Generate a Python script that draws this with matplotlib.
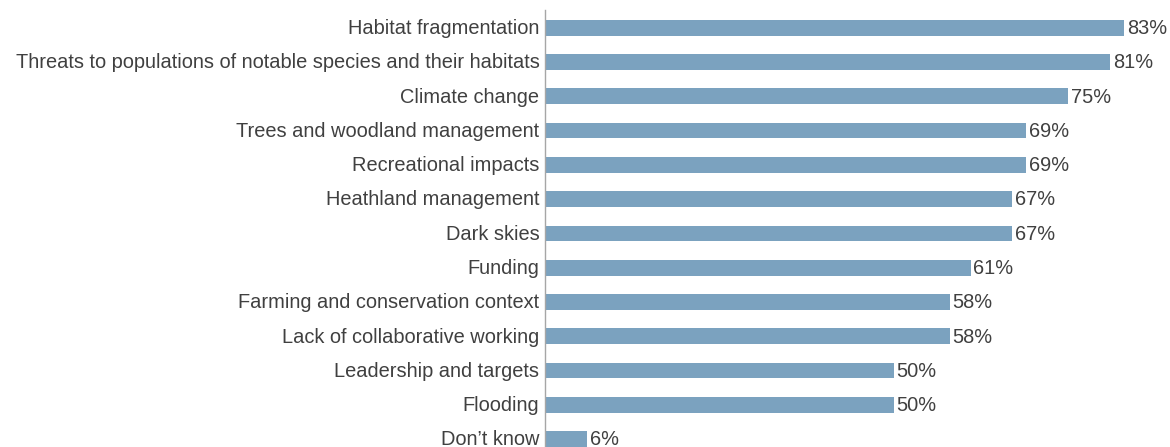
import matplotlib
matplotlib.use("Agg")
import matplotlib.pyplot as plt

categories = [
    "Habitat fragmentation",
    "Threats to populations of notable species and their habitats",
    "Climate change",
    "Trees and woodland management",
    "Recreational impacts",
    "Heathland management",
    "Dark skies",
    "Funding",
    "Farming and conservation context",
    "Lack of collaborative working",
    "Leadership and targets",
    "Flooding",
    "Don\u2019t know",
]
values = [83, 81, 75, 69, 69, 67, 67, 61, 58, 58, 50, 50, 6]

plt.rcParams['font.family'] = ['Liberation Sans', 'DejaVu Sans']
W, H = 1170, 447
fig = plt.figure(figsize=(W / 100, H / 100), dpi=100)
left_px, top_px = 545, 10
ax = fig.add_axes([left_px / W, 0, 1 - left_px / W, (H - top_px) / H])

bar_color = "#7ba2bf"
text_color = "#404040"
fs = 14.4
base_off = -6.3 * 0.72  # baseline offset below bar centre, in points
pos = list(range(len(categories)))
ax.barh(pos, values, height=0.46, color=bar_color, edgecolor="none")
for p, v, c in zip(pos, values, categories):
    ax.annotate(f"{v}%", xy=(v, p), xytext=(2, base_off), textcoords="offset points",
                va="baseline", ha="left", fontsize=fs, color=text_color,
                annotation_clip=False)
    ax.annotate(c, xy=(0, p), xytext=(-4, base_off), textcoords="offset points",
                va="baseline", ha="right", fontsize=fs, color=text_color,
                annotation_clip=False)

ax.set_yticks([])
ax.set_xticks([])
spacing = 34.27
ax.set_ylim(12 + (447 - 439) / spacing, -(27.8 - 10) / spacing)
ax.set_xlim(0, (W - left_px) / 6.976)
for s in ["top", "right", "bottom"]:
    ax.spines[s].set_visible(False)
ax.spines["left"].set_color("#a6a6a6")
ax.spines["left"].set_linewidth(1)

fig.savefig("out.png", dpi=100)
